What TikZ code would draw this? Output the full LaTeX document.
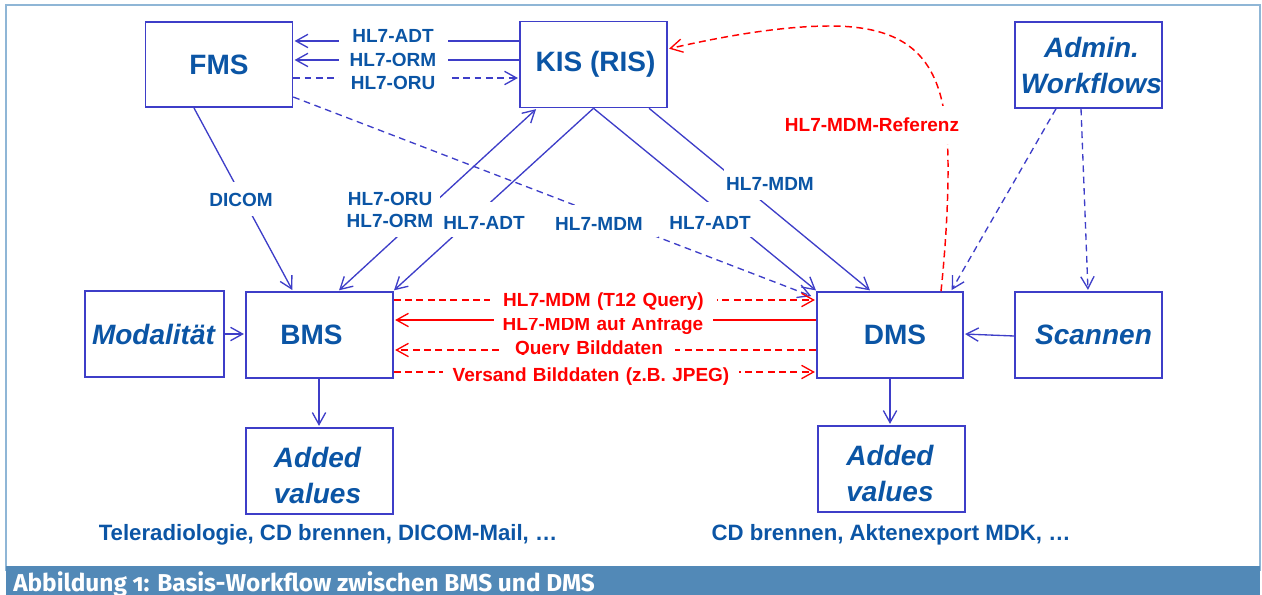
\documentclass[tikz,border=0pt]{standalone}
\usepackage{fontspec}
\setmainfont{Liberation Sans}
\newfontfamily\capfont[Numbers=OldStyle]{Fira Sans}
\usetikzlibrary{arrows.meta,calc}
\definecolor{txtblue}{HTML}{0B55A5}
\definecolor{lineblue}{HTML}{3E3EC8}
\definecolor{capblue}{HTML}{5289B7}
\definecolor{framec}{HTML}{8FB6D6}
\newdimen\pxu \pxu=.75pt
\def\pxlen#1{\the\dimexpr#1\pxu\relax}
% text shifted sideways inside its box
\newcommand\sft[2]{\hspace*{#1\pxu}#2\hspace*{-#1\pxu}}
% name, cx, baseline, width, above, below, colour, text
\newcommand\lab[8]{\node[lab,text=#7,text width=\pxlen{#4},text height=\pxlen{#5},text depth=\pxlen{#6}] (#1) at (#2,#3) {#8};}
\tikzset{
  x=.75pt,y=-.75pt,
  box/.style={draw=lineblue,line width=1.15pt,fill=white,inner sep=0pt,text=txtblue,font=\fontsize{21}{27}\selectfont\bfseries,align=center},
  ibox/.style={box,font=\fontsize{21}{27}\selectfont\bfseries\itshape},
  lab/.style={fill=white,inner sep=0pt,anchor=base,align=center,font=\fontsize{14.25}{17}\selectfont\bfseries},
  conn/.style={draw=lineblue,line width=1pt},
  tip/.style={-{Straight Barb[length=9pt,width=10pt,line width=1pt]},shorten >=1pt},
  dashb/.style={conn,dash pattern=on 5pt off 3.5pt},
  redc/.style={conn,draw=red,line width=1.1pt},
  redd/.style={redc,dash pattern=on 5.2pt off 3.3pt},
  note/.style={text=txtblue,font=\fontsize{16.65}{20}\selectfont\bfseries,inner sep=0pt},
}
\begin{document}
\begin{tikzpicture}
\useasboundingbox (0,0) rectangle (1262,595);
\begin{scope}
\clip (0,0) rectangle (1262,595);
\draw[framec,line width=1pt] (6,5) rectangle (1260,570);
\fill[capblue] (6,566) rectangle (1260,595);
\node[anchor=base west,inner sep=0pt,text=white,font=\capfont\fontsize{18.3}{20}\selectfont\bfseries] (cap) at (13,591) {Abbildung 1: Basis-Workflow zwischen BMS und DMS};
\end{scope}
% boxes
\newcommand\boxat[7][box]{\node[#1,minimum width=\pxlen{#3},minimum height=\pxlen{#4}] (#2) at (#5,#6) {#7};}
\boxat{fms}{147}{85.5}{219}{64.5}{FMS}
\boxat{kis}{147}{86}{593.5}{64.5}{\sft{2}{KIS (RIS)}}
\boxat[ibox]{admin}{147}{86}{1088.5}{65}{\sft{3}{Admin.}\\\sft{3}{Workflows}}
\boxat[ibox]{moda}{139}{86}{154.5}{334}{\sft{-1}{Modalität}}
\boxat{bms}{147}{86}{319.5}{335}{\sft{-8}{BMS}}
\boxat{dms}{146}{86}{890}{335}{\sft{5}{DMS}}
\boxat[ibox]{scan}{147}{86}{1088.5}{335}{\sft{5}{Scannen}}
\boxat[ibox]{addl}{147}{86}{319.5}{471}{\rule{0pt}{22pt}\sft{-2}{Added}\\\sft{-2}{values}}
\boxat[ibox]{addr}{147}{86}{891.5}{469}{\rule{0pt}{22pt}\sft{-1.5}{Added}\\\sft{-1.5}{values}}
% connectors
\draw[conn,tip] (kis.west |- 0,41) -- (fms.east |- 0,41);
\draw[conn,tip] (kis.west |- 0,60) -- (fms.east |- 0,60);
\draw[dashb,tip] (fms.east |- 0,78) -- (kis.west |- 0,78);
\draw[dashb,tip,shorten >=4pt] (fms.east |- 0,97) -- (dms.west |- 0,298);
\draw[conn,tip] (fms.south -| 194,0) -- (bms.north -| 293,0);
\draw[conn,{Straight Barb[length=9pt,width=10pt,line width=1pt]}-{Straight Barb[length=9pt,width=10pt,line width=1pt]},shorten <=1pt,shorten >=1pt] (kis.south -| 537,0) -- (bms.north -| 338,0);
\draw[conn,tip] (kis.south) -- (bms.north -| 393,0);
\draw[conn,tip] (kis.south) -- (dms.north -| 817,0);
\draw[conn,tip] (kis.south -| 649,0) -- (dms.north -| 871,0);
\draw[conn,tip] (moda.east |- 0,334) -- (bms.west |- 0,334);
\draw[conn,tip] (bms.south -| 319,0) -- (addl.north -| 319,0);
\draw[conn,tip] (dms.south -| 890,0) -- (addr.north -| 890,0);
\draw[conn,tip] (scan.west |- 0,336) -- (dms.east |- 0,334);
\draw[dashb,tip] (admin.south -| 1056,0) -- (dms.north -| 951,0);
\draw[dashb,tip] (admin.south -| 1081,0) -- (scan.north -| 1088,0);
\draw[redd,tip] (dms.north -| 941,0) .. controls (950,205) and (950,130) .. (943,106) .. controls (932,52) and (900,26) .. (830,26) .. controls (780,26) and (720,37) .. (kis.east |- 0,49);
\draw[redd,tip] (bms.east |- 0,300) -- (dms.west |- 0,300);
\draw[redc,tip] (dms.west |- 0,320) -- (bms.east |- 0,320);
\draw[redd,tip] (dms.west |- 0,350) -- (bms.east |- 0,350);
\draw[redd,tip] (bms.east |- 0,372) -- (dms.west |- 0,372);
% labels
\lab{adt}{393}{43}{109}{14}{5}{txtblue}{HL7-ADT}
\lab{orm}{393}{67}{109}{16}{6}{txtblue}{HL7-ORM}
\lab{oru}{393}{90}{109}{24}{10}{txtblue}{HL7-ORU}
\lab{dicom}{241}{207}{66}{25}{9}{txtblue}{DICOM}
\lab{oru2}{390}{205}{100}{15}{5}{txtblue}{HL7-ORU}
\lab{orm2}{390}{228}{92}{18}{9}{txtblue}{HL7-ORM}
\lab{adt2}{484}{229}{88}{27}{8}{txtblue}{HL7-ADT}
\lab{mdm}{599}{230}{118}{25}{7}{txtblue}{HL7-MDM}
\lab{adt3}{710}{229}{84}{27}{8}{txtblue}{HL7-ADT}
\lab{mdm2}{770}{191}{92}{25}{9}{txtblue}{HL7-MDM}
\lab{ref}{872}{132}{178}{26}{12}{red}{HL7-MDM-Referenz}
\lab{auf}{603}{330}{219}{14}{5}{red}{HL7-MDM auf Anfrage}
\lab{t12}{603.5}{306}{227}{22}{12}{red}{HL7-MDM (T12 Query)}
\lab{query}{589}{354}{172}{18}{6}{red}{Query Bilddaten}
\lab{vers}{591}{381}{296}{26}{6}{red}{Versand Bilddaten (z.B. JPEG)}
\node[note] (t1) at (328,535) {Teleradiologie, CD brennen, DICOM-Mail, …};
\node[note] (t2) at (891,535) {CD brennen, Aktenexport MDK, …};
\end{tikzpicture}
\end{document}
